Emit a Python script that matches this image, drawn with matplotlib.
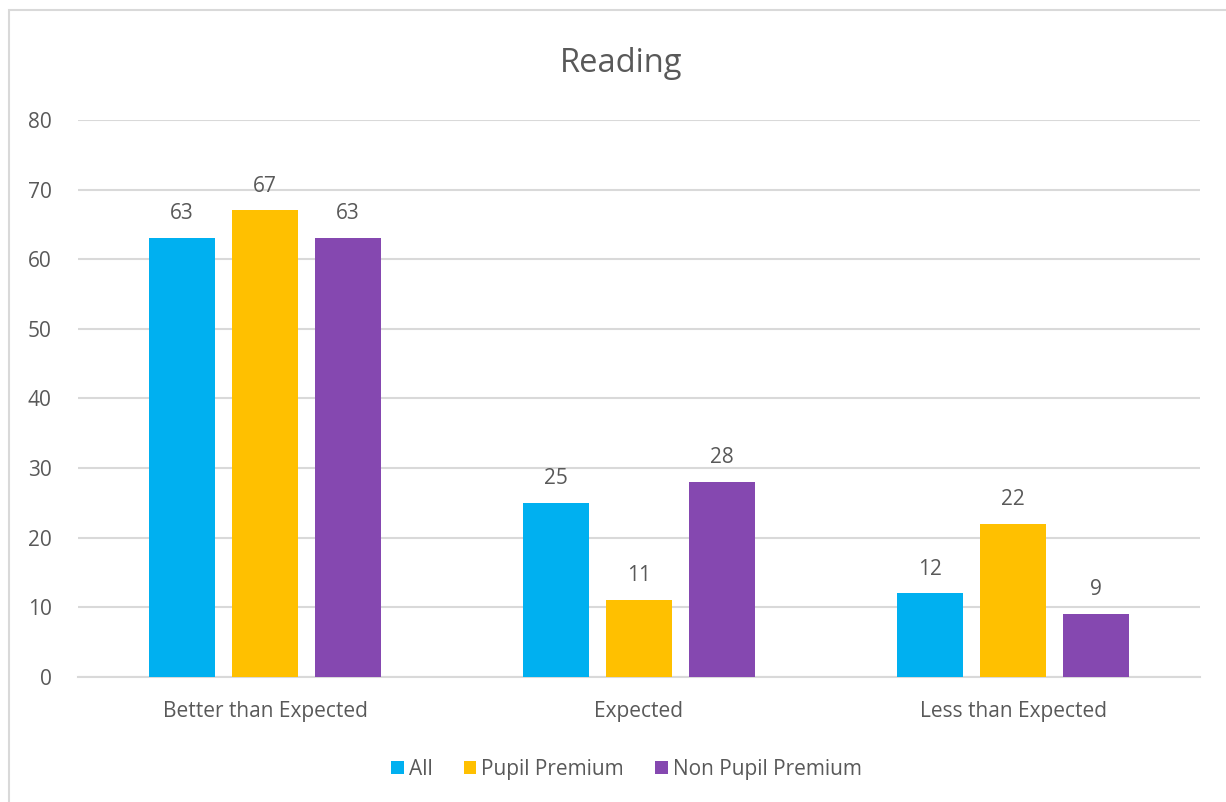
import matplotlib.pyplot as plt
import numpy as np
from matplotlib.patches import Rectangle

categories = ["Better than Expected", "Expected", "Less than Expected"]
series_names = ["All", "Pupil Premium", "Non Pupil Premium"]
all_vals = [63, 25, 12]
pp_vals = [67, 11, 22]
npp_vals = [63, 28, 9]
colors = ["#00B0F0", "#FFC000", "#8548B0"]

plt.rcParams["font.family"] = ["Open Sans", "DejaVu Sans"]
text_color = "#595959"

fig = plt.figure(figsize=(12.26, 8.02), dpi=100)
ax = fig.add_axes([0.0636, 0.1559, 0.9152, 0.6945])

# chart border (cropped at right/bottom in the original)
fig.patches.append(Rectangle((9 / 1226, -0.05), 1.2, (802 - 10) / 802 + 0.05,
                             transform=fig.transFigure, fill=False,
                             edgecolor="#d9d9d9", linewidth=1.5))

x = np.arange(len(categories))
width = 0.1765
offset = 0.222
for i, (vals, name) in enumerate(zip([all_vals, pp_vals, npp_vals], series_names)):
    bars = ax.bar(x + (i - 1) * offset, vals, width, color=colors[i], label=name, zorder=3)
    ax.bar_label(bars, padding=10, fontsize=15, color=text_color)

ax.set_xlim(-0.5, 2.5)
ax.set_ylim(0, 80)
ax.set_yticks(range(0, 81, 10))
ax.set_xticks(x)
ax.set_xticklabels(categories)
ax.tick_params(axis="both", length=0, labelsize=15, labelcolor=text_color)
ax.tick_params(axis="x", pad=17)
ax.tick_params(axis="y", pad=19)
ax.grid(axis="y", color="#d9d9d9", linewidth=1.5, zorder=0)
for s in ["top", "right", "left"]:
    ax.spines[s].set_visible(False)
ax.spines["bottom"].set_color("#d9d9d9")
ax.spines["bottom"].set_linewidth(1.5)

fig.text(0.507, 0.921, "Reading", ha="center", va="center", fontsize=23.5, color=text_color)

leg = fig.legend(loc="center", bbox_to_anchor=(0.511, 0.041), ncol=3, frameon=False,
                 fontsize=15, handlelength=0.6, handleheight=0.6, handletextpad=0.25,
                 columnspacing=1.5)
for t in leg.get_texts():
    t.set_color(text_color)

plt.savefig("out.png", dpi=100)
